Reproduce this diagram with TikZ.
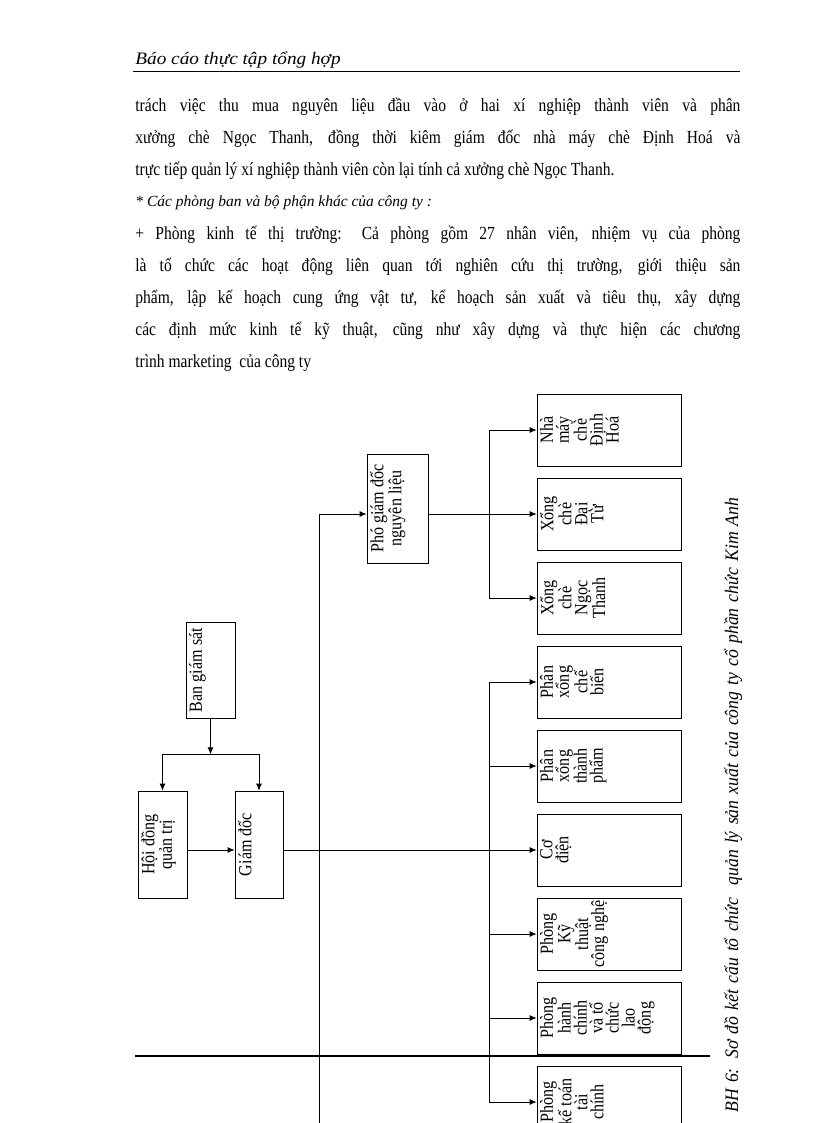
\documentclass[tikz,border=0pt]{standalone}
\usepackage{fontspec}
\setmainfont{Liberation Serif}
\newfontfamily\bodyfont{Liberation Serif}[FakeStretch=0.84]
\newfontfamily\headfont{Liberation Serif}[FakeStretch=1.1]
\newfontfamily\capfont{Liberation Serif}[FakeStretch=0.93]
\newfontfamily\boxfont{Liberation Serif}[FakeStretch=0.87]
\usepackage{graphicx}
\usepackage{tikz}
\usetikzlibrary{arrows.meta}
\usetikzlibrary{positioning}
\tikzstyle{line} = [draw, -{Latex[length=7pt,width=6pt]}]
% rotated text of a box: length along the box, thickness, lines
\newcommand{\orgtext}[3]{\rotatebox{90}{\parbox[c][#2][t]{#1}{\centering\vspace*{3pt}#3}}}
\tikzset{
    unit/.style={draw, inner sep=0pt, font=\boxfont\fontsize{18.5}{16}\selectfont},
    bodyline/.style={anchor=base west, inner sep=0pt, font=\bodyfont\fontsize{18.5}{20}\selectfont},
    pagerule/.style={draw, line width=1.6pt},
}

\begin{document}
\begin{tikzpicture}[x=1pt, y=-1pt, line width=0.8pt]
	\useasboundingbox (0,0) rectangle (816,1123);
	% running head
	\node[anchor=base west, inner sep=0pt, font=\headfont\itshape\fontsize{17.5}{20}\selectfont] (head) at (135,65) {Báo cáo thực tập tổng hợp};
	\draw[pagerule] (133,71.5) -- (740,71.5);
	% text
	\node[bodyline] (l1) at (135,111.7) {\makebox[605pt][s]{trách việc thu mua nguyên liệu đầu vào ở hai xí nghiệp thành viên và phân}};
	\node[bodyline] (l2) at (135,143.5) {\makebox[605pt][s]{xưởng chè Ngọc Thanh, đồng thời kiêm giám đốc nhà máy chè Định Hoá và}};
	\node[bodyline] (l3) at (135,175.5) {trực tiếp quản lý xí nghiệp thành viên còn lại tính cả xưởng chè Ngọc Thanh.};
	\node[bodyline, font=\itshape\fontsize{15.5}{20}\selectfont] (l4) at (135,207) {* Các phòng ban và bộ phận khác của công ty :};
	\node[bodyline] (l5) at (135,239.3) {\makebox[605pt][s]{+ Phòng kinh tế thị trường: Cả phòng gồm 27 nhân viên, nhiệm vụ của phòng}};
	\node[bodyline] (l6) at (135,271.3) {\makebox[605pt][s]{là tổ chức các hoạt động liên quan tới nghiên cứu thị trường, giới thiệu sản}};
	\node[bodyline] (l7) at (135,303.3) {\makebox[605pt][s]{phẩm, lập kế hoạch cung ứng vật tư, kế hoạch sản xuất và tiêu thụ, xây dựng}};
	\node[bodyline] (l8) at (135,335.3) {\makebox[605pt][s]{các định mức kinh tế kỹ thuật, cũng như xây dựng và thực hiện các chương}};
	\node[bodyline] (l9) at (135,367.3) {trình marketing\ \ của công ty};
	% chart
	\node[unit] (bgs) at (210.5,670) {\orgtext{96pt}{49pt}{Ban giám sát}};
	\node[unit] (hdqt) at (162.5,844.5) {\orgtext{107pt}{49pt}{Hội đồng\\ quản trị}};
	\node[unit] (gd) at (259,844.5) {\orgtext{107pt}{48pt}{Giám đốc}};
	\node[unit] (pgd) at (397.5,508.5) {\orgtext{109pt}{61pt}{Phó giám đốc\\ nguyên liệu}};
	\foreach \name/\txt [count=\i from 0] in {
		dh/{Nhà\\ máy\\ chè\\ Định\\ Hoá},
		dt/{Xổng\\ chè\\ Đại\\ Từ},
		nt/{Xổng\\ chè\\ Ngọc\\ Thanh},
		cb/{Phân\\ xổng\\ chế\\ biến},
		tp/{Phân\\ xổng\\ thành\\ phẩm},
		cd/{Cơ\\ điện},
		kt/{Phòng\\ Kỹ\\ thuật\\ công nghệ},
		hc/{Phòng\\ hành\\ chính\\ và tổ\\ chức\\ lao\\ động},
		ktc/{Phòng\\ kế toán\\ tài\\ chính}}
		\node[unit] (\name) at (609,430+84*\i) {\orgtext{72pt}{144pt}{\txt}};
	\coordinate (trunkend) at (319,1123);
	\coordinate (split) at (489,0);
	\path (bgs.south) ++(0,36) coordinate (fork);
	% connectors
	\draw[line] (bgs.south) -- (fork);
	\draw[line] (fork) -| (hdqt.north);
	\draw[line] (fork) -| (gd.north);
	\draw[line] (hdqt.east |- cd) -- (gd.west |- cd);
	\draw[line] (gd.east |- cd) -- (cd.west);
	\draw[line] (trunkend) |- (pgd.west |- dt);
	\draw[line] (pgd.east |- dt) -- (dt.west);
	\draw[line] (split |- dt) |- (dh.west);
	\draw[line] (split |- dt) |- (nt.west);
	\foreach \name in {cb,tp,kt,hc,ktc}
		\draw[line] (split |- cd) |- (\name.west);
	% foot rule and caption
	\draw[pagerule] (135,1056) -- (710,1056);
	\node[rotate=90, anchor=base west, inner sep=0pt, font=\capfont\itshape\fontsize{19}{20}\selectfont] (caption) at (738,1113) {\makebox[615pt][s]{BH 6: Sơ đồ kết cấu tổ chức\ \ quản lý sản xuất của công ty cổ phần chức Kim Anh}};
\end{tikzpicture}
\end{document}
